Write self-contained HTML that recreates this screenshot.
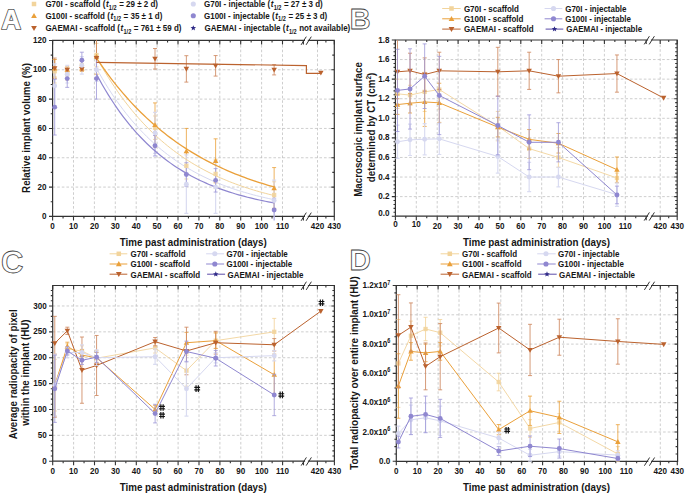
<!DOCTYPE html>
<html><head><meta charset="utf-8"><style>html,body{margin:0;padding:0;background:#fff;width:685px;height:493px;overflow:hidden}svg{display:block}</style></head>
<body><svg width="685" height="493" viewBox="0 0 685 493">
<rect width="685" height="493" fill="#fff"/>
<path d="M73.50 40.45V216.40M94.40 40.45V216.40M115.30 40.45V216.40M136.20 40.45V216.40M157.10 40.45V216.40M178.00 40.45V216.40M198.90 40.45V216.40M219.80 40.45V216.40M240.70 40.45V216.40M261.60 40.45V216.40M282.50 40.45V216.40M317.50 40.45V216.40M52.60 187.08H334.30M52.60 157.75H334.30M52.60 128.43H334.30M52.60 99.10H334.30M52.60 69.78H334.30" stroke="#bdbdbd" stroke-width="0.75" stroke-dasharray="2.6 2.0" fill="none"/>
<path d="M52.60 40.45V216.40H304.40M308.40 216.40H334.30V40.45H308.40M304.40 40.45H52.60" stroke="#333333" stroke-width="1.2" fill="none" stroke-linecap="square"/>
<path d="M301.10 44.85L306.30 36.65M306.10 44.85L311.30 36.65M301.10 220.80L306.30 212.60M306.10 220.80L311.30 212.60" stroke="#333333" stroke-width="1" fill="none"/>
<path d="M52.60 216.40v4.0M52.60 40.45v4.0M63.05 216.40v2.0M63.05 40.45v2.0M73.50 216.40v4.0M73.50 40.45v4.0M83.95 216.40v2.0M83.95 40.45v2.0M94.40 216.40v4.0M94.40 40.45v4.0M104.85 216.40v2.0M104.85 40.45v2.0M115.30 216.40v4.0M115.30 40.45v4.0M125.75 216.40v2.0M125.75 40.45v2.0M136.20 216.40v4.0M136.20 40.45v4.0M146.65 216.40v2.0M146.65 40.45v2.0M157.10 216.40v4.0M157.10 40.45v4.0M167.55 216.40v2.0M167.55 40.45v2.0M178.00 216.40v4.0M178.00 40.45v4.0M188.45 216.40v2.0M188.45 40.45v2.0M198.90 216.40v4.0M198.90 40.45v4.0M209.35 216.40v2.0M209.35 40.45v2.0M219.80 216.40v4.0M219.80 40.45v4.0M230.25 216.40v2.0M230.25 40.45v2.0M240.70 216.40v4.0M240.70 40.45v4.0M251.15 216.40v2.0M251.15 40.45v2.0M261.60 216.40v4.0M261.60 40.45v4.0M272.05 216.40v2.0M272.05 40.45v2.0M282.50 216.40v4.0M282.50 40.45v4.0M292.95 216.40v2.0M292.95 40.45v2.0M303.40 216.40v4.0M303.40 40.45v4.0M317.50 216.40v4.0M317.50 40.45v4.0M325.90 216.40v2.0M325.90 40.45v2.0M334.30 216.40v4.0M334.30 40.45v4.0M52.60 216.40h-3.6M52.60 187.08h-3.6M52.60 157.75h-3.6M52.60 128.43h-3.6M52.60 99.10h-3.6M52.60 69.78h-3.6M52.60 40.46h-3.6M52.60 201.74h-1.9M52.60 172.41h-1.9M52.60 143.09h-1.9M52.60 113.77h-1.9M52.60 84.44h-1.9M52.60 55.12h-1.9M334.30 187.08h-3.0M334.30 157.75h-3.0M334.30 128.43h-3.0M334.30 99.10h-3.0M334.30 69.78h-3.0M334.30 201.74h-2.0M334.30 172.41h-2.0M334.30 143.09h-2.0M334.30 113.77h-2.0M334.30 84.44h-2.0M334.30 55.12h-2.0" stroke="#333333" stroke-width="1.1" fill="none"/>
<g font-family="Liberation Sans, sans-serif" font-weight="bold" font-size="8.1" fill="#161616"><text transform="translate(52.60,229.00) scale(1,1.18)" text-anchor="middle">0</text><text transform="translate(73.50,229.00) scale(1,1.18)" text-anchor="middle">10</text><text transform="translate(94.40,229.00) scale(1,1.18)" text-anchor="middle">20</text><text transform="translate(115.30,229.00) scale(1,1.18)" text-anchor="middle">30</text><text transform="translate(136.20,229.00) scale(1,1.18)" text-anchor="middle">40</text><text transform="translate(157.10,229.00) scale(1,1.18)" text-anchor="middle">50</text><text transform="translate(178.00,229.00) scale(1,1.18)" text-anchor="middle">60</text><text transform="translate(198.90,229.00) scale(1,1.18)" text-anchor="middle">70</text><text transform="translate(219.80,229.00) scale(1,1.18)" text-anchor="middle">80</text><text transform="translate(240.70,229.00) scale(1,1.18)" text-anchor="middle">90</text><text transform="translate(261.60,229.00) scale(1,1.18)" text-anchor="middle">100</text><text transform="translate(282.50,229.00) scale(1,1.18)" text-anchor="middle">110</text><text transform="translate(317.50,229.00) scale(1,1.18)" text-anchor="middle">420</text><text transform="translate(334.30,229.00) scale(1,1.18)" text-anchor="middle">430</text></g>
<g font-family="Liberation Sans, sans-serif" font-weight="bold" font-size="8.1" fill="#161616"><text transform="translate(46.60,219.00) scale(1,1.18)" text-anchor="end">0</text><text transform="translate(46.60,189.68) scale(1,1.18)" text-anchor="end">20</text><text transform="translate(46.60,160.35) scale(1,1.18)" text-anchor="end">40</text><text transform="translate(46.60,131.03) scale(1,1.18)" text-anchor="end">60</text><text transform="translate(46.60,101.70) scale(1,1.18)" text-anchor="end">80</text><text transform="translate(46.60,72.38) scale(1,1.18)" text-anchor="end">100</text><text transform="translate(46.60,43.06) scale(1,1.18)" text-anchor="end">120</text></g>
<path d="M54.69 59.52V82.98M52.69 59.52h4.0M52.69 82.98h4.0M67.23 68.31V80.04M65.23 68.31h4.0M65.23 80.04h4.0M81.86 59.52V71.25M79.86 59.52h4.0M79.86 71.25h4.0M96.49 43.39V66.85M94.49 43.39h4.0M94.49 66.85h4.0M155.01 115.97V139.42M153.01 115.97h4.0M153.01 139.42h4.0M186.36 152.62V179.01M184.36 152.62h4.0M184.36 179.01h4.0M215.62 159.22V188.54M213.62 159.22h4.0M213.62 188.54h4.0M274.14 181.80V208.19M272.14 181.80h4.0M272.14 208.19h4.0" stroke="#f2d49c" stroke-width="1.0" fill="none" opacity="0.85"/>
<path d="M54.69 59.52V77.11M52.69 59.52h4.0M52.69 77.11h4.0M67.23 66.85V72.71M65.23 66.85h4.0M65.23 72.71h4.0M81.86 65.38V71.25M79.86 65.38h4.0M79.86 71.25h4.0M96.49 40.45V74.18M94.49 74.18h4.0M155.01 102.92V146.90M153.01 102.92h4.0M153.01 146.90h4.0M186.36 128.43V173.88M184.36 128.43h4.0M184.36 173.88h4.0M215.62 138.84V182.82M213.62 138.84h4.0M213.62 182.82h4.0M274.14 167.58V208.63M272.14 167.58h4.0M272.14 208.63h4.0" stroke="#eaa03a" stroke-width="1.0" fill="none" opacity="0.8"/>
<path d="M54.69 58.05V78.58M52.69 58.05h4.0M52.69 78.58h4.0M67.23 68.31V71.25M65.23 68.31h4.0M65.23 71.25h4.0M81.86 67.58V70.51M79.86 67.58h4.0M79.86 70.51h4.0M96.49 40.45V78.58M94.49 78.58h4.0M155.01 48.52V69.05M153.01 48.52h4.0M153.01 69.05h4.0M186.36 55.70V82.10M184.36 55.70h4.0M184.36 82.10h4.0M215.62 55.56V76.08M213.62 55.56h4.0M213.62 76.08h4.0M274.14 64.65V74.91M272.14 64.65h4.0M272.14 74.91h4.0" stroke="#cf8a62" stroke-width="1.0" fill="none" opacity="0.85"/>
<path d="M54.69 63.92V107.90M52.69 63.92h4.0M52.69 107.90h4.0M67.23 65.38V82.98M65.23 65.38h4.0M65.23 82.98h4.0M81.86 56.58V74.18M79.86 56.58h4.0M79.86 74.18h4.0M96.49 58.05V81.51M94.49 58.05h4.0M94.49 81.51h4.0M155.01 112.30V153.35M153.01 112.30h4.0M153.01 153.35h4.0M186.36 154.82V213.47M184.36 154.82h4.0M184.36 213.47h4.0M215.62 160.68V213.47M213.62 160.68h4.0M213.62 213.47h4.0M274.14 180.04V220.40M272.14 180.04h4.0" stroke="#d6d8f0" stroke-width="1.2" fill="none" opacity="0.9"/>
<path d="M54.69 79.31V135.03M52.69 79.31h4.0M52.69 135.03h4.0M67.23 69.78V87.37M65.23 69.78h4.0M65.23 87.37h4.0M81.86 52.19V68.31M79.86 52.19h4.0M79.86 68.31h4.0M96.49 58.05V99.10M94.49 58.05h4.0M94.49 99.10h4.0M155.01 135.47V155.99M153.01 135.47h4.0M153.01 155.99h4.0M186.36 162.74V186.20M184.36 162.74h4.0M184.36 186.20h4.0M215.62 168.60V192.06M213.62 168.60h4.0M213.62 192.06h4.0M274.14 198.22V220.40M272.14 198.22h4.0" stroke="#9d97d8" stroke-width="1.0" fill="none" opacity="0.8"/>
<polyline points="96.49,68.31 99.45,73.60 102.41,78.70 105.37,83.62 108.33,88.36 111.29,92.94 114.25,97.35 117.22,101.60 120.18,105.70 123.14,109.65 126.10,113.46 129.06,117.14 132.02,120.69 134.98,124.10 137.94,127.40 140.90,130.58 143.86,133.64 146.82,136.60 149.78,139.45 152.75,142.20 155.71,144.85 158.67,147.40 161.63,149.87 164.59,152.24 167.55,154.54 170.51,156.75 173.47,158.88 176.43,160.93 179.39,162.91 182.35,164.82 185.31,166.66 188.28,168.44 191.24,170.15 194.20,171.80 197.16,173.40 200.12,174.93 203.08,176.41 206.04,177.84 209.00,179.22 211.96,180.55 214.92,181.83 217.88,183.06 220.84,184.25 223.81,185.40 226.77,186.51 229.73,187.58 232.69,188.61 235.65,189.60 238.61,190.56 241.57,191.48 244.53,192.37 247.49,193.23 250.45,194.05 253.41,194.85 256.38,195.62 259.34,196.36 262.30,197.08 265.26,197.77 268.22,198.44 271.18,199.08 274.14,199.70" stroke="#d6d8f0" stroke-width="1.0" fill="none"/>
<polyline points="96.49,57.32 99.45,62.61 102.41,67.73 105.37,72.68 108.33,77.47 111.29,82.09 114.25,86.57 117.22,90.89 120.18,95.07 123.14,99.11 126.10,103.01 129.06,106.79 132.02,110.44 134.98,113.96 137.94,117.37 140.90,120.67 143.86,123.86 146.82,126.94 149.78,129.92 152.75,132.80 155.71,135.58 158.67,138.27 161.63,140.87 164.59,143.39 167.55,145.82 170.51,148.17 173.47,150.44 176.43,152.64 179.39,154.76 182.35,156.81 185.31,158.80 188.28,160.71 191.24,162.57 194.20,164.36 197.16,166.09 200.12,167.77 203.08,169.39 206.04,170.95 209.00,172.46 211.96,173.93 214.92,175.34 217.88,176.71 220.84,178.03 223.81,179.31 226.77,180.54 229.73,181.74 232.69,182.89 235.65,184.01 238.61,185.08 241.57,186.13 244.53,187.13 247.49,188.11 250.45,189.05 253.41,189.96 256.38,190.84 259.34,191.69 262.30,192.52 265.26,193.31 268.22,194.08 271.18,194.82 274.14,195.54" stroke="#f2d49c" stroke-width="1.0" fill="none"/>
<polyline points="96.49,74.18 99.45,79.66 102.41,84.92 105.37,89.99 108.33,94.86 111.29,99.54 114.25,104.04 117.22,108.37 120.18,112.53 123.14,116.53 126.10,120.38 129.06,124.07 132.02,127.63 134.98,131.05 137.94,134.34 140.90,137.50 143.86,140.54 146.82,143.46 149.78,146.27 152.75,148.97 155.71,151.57 158.67,154.06 161.63,156.46 164.59,158.77 167.55,160.99 170.51,163.13 173.47,165.18 176.43,167.15 179.39,169.05 182.35,170.87 185.31,172.63 188.28,174.31 191.24,175.93 194.20,177.49 197.16,178.99 200.12,180.43 203.08,181.82 206.04,183.15 209.00,184.43 211.96,185.66 214.92,186.85 217.88,187.98 220.84,189.08 223.81,190.13 226.77,191.14 229.73,192.11 232.69,193.05 235.65,193.95 238.61,194.81 241.57,195.65 244.53,196.45 247.49,197.21 250.45,197.95 253.41,198.66 256.38,199.35 259.34,200.00 262.30,200.63 265.26,201.24 268.22,201.83 271.18,202.39 274.14,202.93" stroke="#8f87d0" stroke-width="1.2" fill="none"/>
<polyline points="96.49,58.05 99.45,62.43 102.41,66.69 105.37,70.83 108.33,74.86 111.29,78.78 114.25,82.58 117.22,86.29 120.18,89.89 123.14,93.39 126.10,96.79 129.06,100.10 132.02,103.32 134.98,106.44 137.94,109.49 140.90,112.44 143.86,115.32 146.82,118.12 149.78,120.84 152.75,123.48 155.71,126.05 158.67,128.55 161.63,130.98 164.59,133.34 167.55,135.64 170.51,137.88 173.47,140.05 176.43,142.16 179.39,144.21 182.35,146.21 185.31,148.15 188.28,150.04 191.24,151.88 194.20,153.66 197.16,155.40 200.12,157.09 203.08,158.73 206.04,160.32 209.00,161.87 211.96,163.38 214.92,164.85 217.88,166.28 220.84,167.66 223.81,169.01 226.77,170.32 229.73,171.60 232.69,172.84 235.65,174.04 238.61,175.21 241.57,176.35 244.53,177.46 247.49,178.54 250.45,179.59 253.41,180.60 256.38,181.59 259.34,182.56 262.30,183.49 265.26,184.40 268.22,185.29 271.18,186.15 274.14,186.99" stroke="#eaa03a" stroke-width="1.3" fill="none"/>
<polyline points="96.49,62.45 306.40,65.53 306.40,73.30 320.86,73.30" stroke="#bb622e" stroke-width="1.2" fill="none"/>
<rect x="52.54" y="69.10" width="4.30" height="4.30" fill="#f2d49c" opacity="0.9"/><rect x="65.08" y="72.03" width="4.30" height="4.30" fill="#f2d49c" opacity="0.9"/><rect x="79.71" y="63.23" width="4.30" height="4.30" fill="#f2d49c" opacity="0.9"/><rect x="94.34" y="52.97" width="4.30" height="4.30" fill="#f2d49c" opacity="0.9"/><rect x="152.86" y="125.54" width="4.30" height="4.30" fill="#f2d49c" opacity="0.9"/><rect x="184.21" y="163.67" width="4.30" height="4.30" fill="#f2d49c" opacity="0.9"/><rect x="213.47" y="171.73" width="4.30" height="4.30" fill="#f2d49c" opacity="0.9"/><rect x="271.99" y="192.84" width="4.30" height="4.30" fill="#f2d49c" opacity="0.9"/>
<path d="M54.69 65.56L57.44 70.38L51.94 70.38Z" fill="#eaa03a" opacity="1.0"/><path d="M67.23 67.03L69.98 71.84L64.48 71.84Z" fill="#eaa03a" opacity="1.0"/><path d="M81.86 65.56L84.61 70.38L79.11 70.38Z" fill="#eaa03a" opacity="1.0"/><path d="M96.49 53.83L99.24 58.65L93.74 58.65Z" fill="#eaa03a" opacity="1.0"/><path d="M155.01 122.16L157.76 126.97L152.26 126.97Z" fill="#eaa03a" opacity="1.0"/><path d="M186.36 148.40L189.11 153.22L183.61 153.22Z" fill="#eaa03a" opacity="1.0"/><path d="M215.62 158.08L218.37 162.89L212.87 162.89Z" fill="#eaa03a" opacity="1.0"/><path d="M274.14 185.35L276.89 190.16L271.39 190.16Z" fill="#eaa03a" opacity="1.0"/>
<path d="M54.69 71.06L57.44 66.25L51.94 66.25Z" fill="#bb622e" opacity="1.0"/><path d="M67.23 72.53L69.98 67.72L64.48 67.72Z" fill="#bb622e" opacity="1.0"/><path d="M81.86 71.80L84.61 66.98L79.11 66.98Z" fill="#bb622e" opacity="1.0"/><path d="M96.49 60.80L99.24 55.99L93.74 55.99Z" fill="#bb622e" opacity="1.0"/><path d="M155.01 61.53L157.76 56.72L152.26 56.72Z" fill="#bb622e" opacity="1.0"/><path d="M186.36 71.65L189.11 66.84L183.61 66.84Z" fill="#bb622e" opacity="1.0"/><path d="M215.62 68.57L218.37 63.76L212.87 63.76Z" fill="#bb622e" opacity="1.0"/><path d="M274.14 72.53L276.89 67.72L271.39 67.72Z" fill="#bb622e" opacity="1.0"/><path d="M320.86 75.46L323.61 70.65L318.11 70.65Z" fill="#bb622e" opacity="1.0"/>
<circle cx="54.69" cy="85.91" r="2.45" fill="#d6d8f0" opacity="1.0"/><circle cx="67.23" cy="74.18" r="2.45" fill="#d6d8f0" opacity="1.0"/><circle cx="81.86" cy="65.38" r="2.45" fill="#d6d8f0" opacity="1.0"/><circle cx="96.49" cy="69.78" r="2.45" fill="#d6d8f0" opacity="1.0"/><circle cx="155.01" cy="132.83" r="2.45" fill="#d6d8f0" opacity="1.0"/><circle cx="186.36" cy="184.14" r="2.45" fill="#d6d8f0" opacity="1.0"/><circle cx="215.62" cy="187.08" r="2.45" fill="#d6d8f0" opacity="1.0"/><circle cx="274.14" cy="200.57" r="2.45" fill="#d6d8f0" opacity="1.0"/>
<circle cx="54.69" cy="107.17" r="2.45" fill="#8f87d0" opacity="1.0"/><circle cx="67.23" cy="78.58" r="2.45" fill="#8f87d0" opacity="1.0"/><circle cx="81.86" cy="60.25" r="2.45" fill="#8f87d0" opacity="1.0"/><circle cx="96.49" cy="78.58" r="2.45" fill="#8f87d0" opacity="1.0"/><circle cx="155.01" cy="145.73" r="2.45" fill="#8f87d0" opacity="1.0"/><circle cx="186.36" cy="174.47" r="2.45" fill="#8f87d0" opacity="1.0"/><circle cx="215.62" cy="180.33" r="2.45" fill="#8f87d0" opacity="1.0"/><circle cx="274.14" cy="209.95" r="2.45" fill="#8f87d0" opacity="1.0"/>
<path d="M416.30 40.00V216.20M437.20 40.00V216.20M458.10 40.00V216.20M479.00 40.00V216.20M499.90 40.00V216.20M520.80 40.00V216.20M541.70 40.00V216.20M562.60 40.00V216.20M583.50 40.00V216.20M604.40 40.00V216.20M625.30 40.00V216.20M660.20 40.00V216.20M395.40 196.62H677.20M395.40 177.04H677.20M395.40 157.46H677.20M395.40 137.88H677.20M395.40 118.30H677.20M395.40 98.72H677.20M395.40 79.14H677.20M395.40 59.56H677.20" stroke="#bdbdbd" stroke-width="0.75" stroke-dasharray="2.6 2.0" fill="none"/>
<path d="M395.40 40.00V216.20H647.50M651.50 216.20H677.20V40.00H651.50M647.50 40.00H395.40" stroke="#333333" stroke-width="1.2" fill="none" stroke-linecap="square"/>
<path d="M644.20 44.40L649.40 36.20M649.20 44.40L654.40 36.20M644.20 220.60L649.40 212.40M649.20 220.60L654.40 212.40" stroke="#333333" stroke-width="1" fill="none"/>
<path d="M395.40 216.20v4.0M395.40 40.00v4.0M405.85 216.20v2.0M405.85 40.00v2.0M416.30 216.20v4.0M416.30 40.00v4.0M426.75 216.20v2.0M426.75 40.00v2.0M437.20 216.20v4.0M437.20 40.00v4.0M447.65 216.20v2.0M447.65 40.00v2.0M458.10 216.20v4.0M458.10 40.00v4.0M468.55 216.20v2.0M468.55 40.00v2.0M479.00 216.20v4.0M479.00 40.00v4.0M489.45 216.20v2.0M489.45 40.00v2.0M499.90 216.20v4.0M499.90 40.00v4.0M510.35 216.20v2.0M510.35 40.00v2.0M520.80 216.20v4.0M520.80 40.00v4.0M531.25 216.20v2.0M531.25 40.00v2.0M541.70 216.20v4.0M541.70 40.00v4.0M552.15 216.20v2.0M552.15 40.00v2.0M562.60 216.20v4.0M562.60 40.00v4.0M573.05 216.20v2.0M573.05 40.00v2.0M583.50 216.20v4.0M583.50 40.00v4.0M593.95 216.20v2.0M593.95 40.00v2.0M604.40 216.20v4.0M604.40 40.00v4.0M614.85 216.20v2.0M614.85 40.00v2.0M625.30 216.20v4.0M625.30 40.00v4.0M635.75 216.20v2.0M635.75 40.00v2.0M646.20 216.20v4.0M646.20 40.00v4.0M660.20 216.20v4.0M660.20 40.00v4.0M668.70 216.20v2.0M668.70 40.00v2.0M677.20 216.20v4.0M677.20 40.00v4.0M395.40 216.20h-3.6M395.40 196.62h-3.6M395.40 177.04h-3.6M395.40 157.46h-3.6M395.40 137.88h-3.6M395.40 118.30h-3.6M395.40 98.72h-3.6M395.40 79.14h-3.6M395.40 59.56h-3.6M395.40 39.98h-3.6M395.40 212.28h-1.9M395.40 208.37h-1.9M395.40 204.45h-1.9M395.40 200.54h-1.9M395.40 192.70h-1.9M395.40 188.79h-1.9M395.40 184.87h-1.9M395.40 180.96h-1.9M395.40 173.12h-1.9M395.40 169.21h-1.9M395.40 165.29h-1.9M395.40 161.38h-1.9M395.40 153.54h-1.9M395.40 149.63h-1.9M395.40 145.71h-1.9M395.40 141.80h-1.9M395.40 133.96h-1.9M395.40 130.05h-1.9M395.40 126.13h-1.9M395.40 122.22h-1.9M395.40 114.38h-1.9M395.40 110.47h-1.9M395.40 106.55h-1.9M395.40 102.64h-1.9M395.40 94.80h-1.9M395.40 90.89h-1.9M395.40 86.97h-1.9M395.40 83.06h-1.9M395.40 75.22h-1.9M395.40 71.31h-1.9M395.40 67.39h-1.9M395.40 63.48h-1.9M395.40 55.64h-1.9M395.40 51.73h-1.9M395.40 47.81h-1.9M395.40 43.90h-1.9M677.20 196.62h-3.0M677.20 177.04h-3.0M677.20 157.46h-3.0M677.20 137.88h-3.0M677.20 118.30h-3.0M677.20 98.72h-3.0M677.20 79.14h-3.0M677.20 59.56h-3.0M677.20 212.28h-2.0M677.20 208.37h-2.0M677.20 204.45h-2.0M677.20 200.54h-2.0M677.20 192.70h-2.0M677.20 188.79h-2.0M677.20 184.87h-2.0M677.20 180.96h-2.0M677.20 173.12h-2.0M677.20 169.21h-2.0M677.20 165.29h-2.0M677.20 161.38h-2.0M677.20 153.54h-2.0M677.20 149.63h-2.0M677.20 145.71h-2.0M677.20 141.80h-2.0M677.20 133.96h-2.0M677.20 130.05h-2.0M677.20 126.13h-2.0M677.20 122.22h-2.0M677.20 114.38h-2.0M677.20 110.47h-2.0M677.20 106.55h-2.0M677.20 102.64h-2.0M677.20 94.80h-2.0M677.20 90.89h-2.0M677.20 86.97h-2.0M677.20 83.06h-2.0M677.20 75.22h-2.0M677.20 71.31h-2.0M677.20 67.39h-2.0M677.20 63.48h-2.0M677.20 55.64h-2.0M677.20 51.73h-2.0M677.20 47.81h-2.0M677.20 43.90h-2.0" stroke="#333333" stroke-width="1.1" fill="none"/>
<g font-family="Liberation Sans, sans-serif" font-weight="bold" font-size="8.1" fill="#161616"><text transform="translate(395.40,227.00) scale(1,1.18)" text-anchor="middle">0</text><text transform="translate(416.30,227.00) scale(1,1.18)" text-anchor="middle">10</text><text transform="translate(437.20,228.80) scale(1,1.18)" text-anchor="middle">20</text><text transform="translate(458.10,228.80) scale(1,1.18)" text-anchor="middle">30</text><text transform="translate(479.00,228.80) scale(1,1.18)" text-anchor="middle">40</text><text transform="translate(499.90,228.80) scale(1,1.18)" text-anchor="middle">50</text><text transform="translate(520.80,228.80) scale(1,1.18)" text-anchor="middle">60</text><text transform="translate(541.70,228.80) scale(1,1.18)" text-anchor="middle">70</text><text transform="translate(562.60,228.80) scale(1,1.18)" text-anchor="middle">80</text><text transform="translate(583.50,228.80) scale(1,1.18)" text-anchor="middle">90</text><text transform="translate(604.40,228.80) scale(1,1.18)" text-anchor="middle">100</text><text transform="translate(625.30,228.80) scale(1,1.18)" text-anchor="middle">110</text><text transform="translate(660.20,228.80) scale(1,1.18)" text-anchor="middle">420</text><text transform="translate(677.20,228.80) scale(1,1.18)" text-anchor="middle">430</text></g>
<g font-family="Liberation Sans, sans-serif" font-weight="bold" font-size="8.1" fill="#161616"><text transform="translate(389.40,215.80) scale(1,1.18)" text-anchor="end">0.0</text><text transform="translate(389.40,199.22) scale(1,1.18)" text-anchor="end">0.2</text><text transform="translate(389.40,179.64) scale(1,1.18)" text-anchor="end">0.4</text><text transform="translate(389.40,160.06) scale(1,1.18)" text-anchor="end">0.6</text><text transform="translate(389.40,140.48) scale(1,1.18)" text-anchor="end">0.8</text><text transform="translate(389.40,120.90) scale(1,1.18)" text-anchor="end">1.0</text><text transform="translate(389.40,101.32) scale(1,1.18)" text-anchor="end">1.2</text><text transform="translate(389.40,81.74) scale(1,1.18)" text-anchor="end">1.4</text><text transform="translate(389.40,62.16) scale(1,1.18)" text-anchor="end">1.6</text><text transform="translate(389.40,42.58) scale(1,1.18)" text-anchor="end">1.8</text></g>
<path d="M397.49 79.14V108.51M395.49 79.14h4.0M395.49 108.51h4.0M410.03 85.31V104.89M408.03 85.31h4.0M408.03 104.89h4.0M424.66 72.29V111.45M422.66 72.29h4.0M422.66 111.45h4.0M439.29 69.94V109.10M437.29 69.94h4.0M437.29 109.10h4.0M497.81 111.45V140.82M495.81 111.45h4.0M495.81 140.82h4.0M529.16 138.86V158.44M527.16 138.86h4.0M527.16 158.44h4.0M558.42 147.67V167.25M556.42 147.67h4.0M556.42 167.25h4.0M616.94 173.12V182.91M614.94 173.12h4.0M614.94 182.91h4.0" stroke="#f2d49c" stroke-width="1.0" fill="none" opacity="0.85"/>
<polyline points="397.49,93.82 410.03,95.10 424.66,91.87 439.29,89.52 497.81,126.13 529.16,148.65 558.42,157.46 616.94,178.02" stroke="#f2d49c" stroke-width="1.0" fill="none" opacity="0.9" stroke-linejoin="round"/>
<rect x="395.34" y="91.67" width="4.30" height="4.30" fill="#f2d49c" opacity="0.9"/><rect x="407.88" y="92.95" width="4.30" height="4.30" fill="#f2d49c" opacity="0.9"/><rect x="422.51" y="89.72" width="4.30" height="4.30" fill="#f2d49c" opacity="0.9"/><rect x="437.14" y="87.37" width="4.30" height="4.30" fill="#f2d49c" opacity="0.9"/><rect x="495.66" y="123.98" width="4.30" height="4.30" fill="#f2d49c" opacity="0.9"/><rect x="527.01" y="146.50" width="4.30" height="4.30" fill="#f2d49c" opacity="0.9"/><rect x="556.27" y="155.31" width="4.30" height="4.30" fill="#f2d49c" opacity="0.9"/><rect x="614.79" y="175.87" width="4.30" height="4.30" fill="#f2d49c" opacity="0.9"/>
<path d="M397.49 94.80V114.38M395.49 94.80h4.0M395.49 114.38h4.0M410.03 93.43V113.01M408.03 93.43h4.0M408.03 113.01h4.0M424.66 77.48V126.43M422.66 77.48h4.0M422.66 126.43h4.0M439.29 83.25V122.41M437.29 83.25h4.0M437.29 122.41h4.0M497.81 117.32V136.90M495.81 117.32h4.0M495.81 136.90h4.0M529.16 129.56V149.14M527.16 129.56h4.0M527.16 149.14h4.0M558.42 133.47V153.05M556.42 133.47h4.0M556.42 153.05h4.0M616.94 156.97V182.42M614.94 156.97h4.0M614.94 182.42h4.0" stroke="#eaa03a" stroke-width="1.0" fill="none" opacity="0.8"/>
<polyline points="397.49,104.59 410.03,103.22 424.66,101.95 439.29,102.83 497.81,127.11 529.16,139.35 558.42,143.26 616.94,169.70" stroke="#eaa03a" stroke-width="1.0" fill="none" opacity="1.0" stroke-linejoin="round"/>
<path d="M397.49 101.84L400.24 106.66L394.74 106.66Z" fill="#eaa03a" opacity="1.0"/><path d="M410.03 100.47L412.78 105.29L407.28 105.29Z" fill="#eaa03a" opacity="1.0"/><path d="M424.66 99.20L427.41 104.01L421.91 104.01Z" fill="#eaa03a" opacity="1.0"/><path d="M439.29 100.08L442.04 104.89L436.54 104.89Z" fill="#eaa03a" opacity="1.0"/><path d="M497.81 124.36L500.56 129.17L495.06 129.17Z" fill="#eaa03a" opacity="1.0"/><path d="M529.16 136.60L531.91 141.41L526.41 141.41Z" fill="#eaa03a" opacity="1.0"/><path d="M558.42 140.51L561.17 145.33L555.67 145.33Z" fill="#eaa03a" opacity="1.0"/><path d="M616.94 166.95L619.69 171.76L614.19 171.76Z" fill="#eaa03a" opacity="1.0"/>
<path d="M397.49 40.00V98.72M395.49 98.72h4.0M410.03 53.20V88.44M408.03 53.20h4.0M408.03 88.44h4.0M424.66 57.90V91.18M422.66 57.90h4.0M422.66 91.18h4.0M439.29 52.22V89.42M437.29 52.22h4.0M437.29 89.42h4.0M497.81 47.32V96.27M495.81 47.32h4.0M495.81 96.27h4.0M529.16 52.22V89.42M527.16 52.22h4.0M527.16 89.42h4.0M558.42 59.56V92.85M556.42 59.56h4.0M556.42 92.85h4.0M616.94 54.96V92.16M614.94 54.96h4.0M614.94 92.16h4.0" stroke="#cf8a62" stroke-width="1.0" fill="none" opacity="0.85"/>
<polyline points="397.49,71.80 410.03,70.82 424.66,74.54 439.29,70.82 497.81,71.80 529.16,70.82 558.42,76.20 616.94,73.56 663.60,97.94" stroke="#bb622e" stroke-width="1.0" fill="none" opacity="1.0" stroke-linejoin="round"/>
<path d="M397.49 74.55L400.24 69.73L394.74 69.73Z" fill="#bb622e" opacity="1.0"/><path d="M410.03 73.57L412.78 68.76L407.28 68.76Z" fill="#bb622e" opacity="1.0"/><path d="M424.66 77.29L427.41 72.48L421.91 72.48Z" fill="#bb622e" opacity="1.0"/><path d="M439.29 73.57L442.04 68.76L436.54 68.76Z" fill="#bb622e" opacity="1.0"/><path d="M497.81 74.55L500.56 69.73L495.06 69.73Z" fill="#bb622e" opacity="1.0"/><path d="M529.16 73.57L531.91 68.76L526.41 68.76Z" fill="#bb622e" opacity="1.0"/><path d="M558.42 78.95L561.17 74.14L555.67 74.14Z" fill="#bb622e" opacity="1.0"/><path d="M616.94 76.31L619.69 71.50L614.19 71.50Z" fill="#bb622e" opacity="1.0"/><path d="M663.60 100.69L666.35 95.87L660.85 95.87Z" fill="#bb622e" opacity="1.0"/>
<path d="M397.49 125.15V158.44M395.49 125.15h4.0M395.49 158.44h4.0M410.03 124.17V155.50M408.03 124.17h4.0M408.03 155.50h4.0M424.66 123.59V154.91M422.66 123.59h4.0M422.66 154.91h4.0M439.29 123.19V154.52M437.29 123.19h4.0M437.29 154.52h4.0M497.81 139.84V173.12M495.81 139.84h4.0M495.81 173.12h4.0M529.16 162.35V191.72M527.16 162.35h4.0M527.16 191.72h4.0M558.42 167.25V186.83M556.42 167.25h4.0M556.42 186.83h4.0M616.94 182.91V206.41M614.94 182.91h4.0M614.94 206.41h4.0" stroke="#d6d8f0" stroke-width="1.2" fill="none" opacity="0.9"/>
<polyline points="397.49,141.80 410.03,139.84 424.66,139.25 439.29,138.86 497.81,156.48 529.16,177.04 558.42,177.04 616.94,194.66" stroke="#d6d8f0" stroke-width="1.0" fill="none" opacity="1.0" stroke-linejoin="round"/>
<circle cx="397.49" cy="141.80" r="2.45" fill="#d6d8f0" opacity="1.0"/><circle cx="410.03" cy="139.84" r="2.45" fill="#d6d8f0" opacity="1.0"/><circle cx="424.66" cy="139.25" r="2.45" fill="#d6d8f0" opacity="1.0"/><circle cx="439.29" cy="138.86" r="2.45" fill="#d6d8f0" opacity="1.0"/><circle cx="497.81" cy="156.48" r="2.45" fill="#d6d8f0" opacity="1.0"/><circle cx="529.16" cy="177.04" r="2.45" fill="#d6d8f0" opacity="1.0"/><circle cx="558.42" cy="177.04" r="2.45" fill="#d6d8f0" opacity="1.0"/><circle cx="616.94" cy="194.66" r="2.45" fill="#d6d8f0" opacity="1.0"/>
<path d="M397.49 49.28V131.52M395.49 49.28h4.0M395.49 131.52h4.0M410.03 48.79V129.07M408.03 48.79h4.0M408.03 129.07h4.0M424.66 43.90V108.51M422.66 43.90h4.0M422.66 108.51h4.0M439.29 56.33V134.65M437.29 56.33h4.0M437.29 134.65h4.0M497.81 96.08V154.82M495.81 96.08h4.0M495.81 154.82h4.0M529.16 114.87V169.70M527.16 114.87h4.0M527.16 169.70h4.0M558.42 122.71V161.87M556.42 122.71h4.0M556.42 161.87h4.0M616.94 186.14V203.77M614.94 186.14h4.0M614.94 203.77h4.0" stroke="#9d97d8" stroke-width="1.0" fill="none" opacity="0.8"/>
<polyline points="397.49,90.40 410.03,88.93 424.66,76.20 439.29,95.49 497.81,125.45 529.16,142.29 558.42,142.29 616.94,194.96" stroke="#8f87d0" stroke-width="1.0" fill="none" opacity="1.0" stroke-linejoin="round"/>
<circle cx="397.49" cy="90.40" r="2.45" fill="#8f87d0" opacity="1.0"/><circle cx="410.03" cy="88.93" r="2.45" fill="#8f87d0" opacity="1.0"/><circle cx="424.66" cy="76.20" r="2.45" fill="#8f87d0" opacity="1.0"/><circle cx="439.29" cy="95.49" r="2.45" fill="#8f87d0" opacity="1.0"/><circle cx="497.81" cy="125.45" r="2.45" fill="#8f87d0" opacity="1.0"/><circle cx="529.16" cy="142.29" r="2.45" fill="#8f87d0" opacity="1.0"/><circle cx="558.42" cy="142.29" r="2.45" fill="#8f87d0" opacity="1.0"/><circle cx="616.94" cy="194.96" r="2.45" fill="#8f87d0" opacity="1.0"/>
<path d="M73.60 285.50V461.20M94.50 285.50V461.20M115.40 285.50V461.20M136.30 285.50V461.20M157.20 285.50V461.20M178.10 285.50V461.20M199.00 285.50V461.20M219.90 285.50V461.20M240.80 285.50V461.20M261.70 285.50V461.20M282.60 285.50V461.20M317.40 285.50V461.20M52.70 435.33H334.40M52.70 409.46H334.40M52.70 383.59H334.40M52.70 357.72H334.40M52.70 331.85H334.40M52.70 305.98H334.40" stroke="#bdbdbd" stroke-width="0.75" stroke-dasharray="2.6 2.0" fill="none"/>
<path d="M52.70 285.50V461.20H304.50M308.50 461.20H334.40V285.50H308.50M304.50 285.50H52.70" stroke="#333333" stroke-width="1.2" fill="none" stroke-linecap="square"/>
<path d="M301.20 289.90L306.40 281.70M306.20 289.90L311.40 281.70M301.20 465.60L306.40 457.40M306.20 465.60L311.40 457.40" stroke="#333333" stroke-width="1" fill="none"/>
<path d="M52.70 461.20v4.0M52.70 285.50v4.0M63.15 461.20v2.0M63.15 285.50v2.0M73.60 461.20v4.0M73.60 285.50v4.0M84.05 461.20v2.0M84.05 285.50v2.0M94.50 461.20v4.0M94.50 285.50v4.0M104.95 461.20v2.0M104.95 285.50v2.0M115.40 461.20v4.0M115.40 285.50v4.0M125.85 461.20v2.0M125.85 285.50v2.0M136.30 461.20v4.0M136.30 285.50v4.0M146.75 461.20v2.0M146.75 285.50v2.0M157.20 461.20v4.0M157.20 285.50v4.0M167.65 461.20v2.0M167.65 285.50v2.0M178.10 461.20v4.0M178.10 285.50v4.0M188.55 461.20v2.0M188.55 285.50v2.0M199.00 461.20v4.0M199.00 285.50v4.0M209.45 461.20v2.0M209.45 285.50v2.0M219.90 461.20v4.0M219.90 285.50v4.0M230.35 461.20v2.0M230.35 285.50v2.0M240.80 461.20v4.0M240.80 285.50v4.0M251.25 461.20v2.0M251.25 285.50v2.0M261.70 461.20v4.0M261.70 285.50v4.0M272.15 461.20v2.0M272.15 285.50v2.0M282.60 461.20v4.0M282.60 285.50v4.0M293.05 461.20v2.0M293.05 285.50v2.0M303.50 461.20v4.0M303.50 285.50v4.0M317.40 461.20v4.0M317.40 285.50v4.0M325.90 461.20v2.0M325.90 285.50v2.0M334.40 461.20v4.0M334.40 285.50v4.0M52.70 461.20h-3.6M52.70 435.33h-3.6M52.70 409.46h-3.6M52.70 383.59h-3.6M52.70 357.72h-3.6M52.70 331.85h-3.6M52.70 305.98h-3.6M52.70 456.03h-1.9M52.70 450.85h-1.9M52.70 445.68h-1.9M52.70 440.50h-1.9M52.70 430.16h-1.9M52.70 424.98h-1.9M52.70 419.81h-1.9M52.70 414.63h-1.9M52.70 404.29h-1.9M52.70 399.11h-1.9M52.70 393.94h-1.9M52.70 388.76h-1.9M52.70 378.42h-1.9M52.70 373.24h-1.9M52.70 368.07h-1.9M52.70 362.89h-1.9M52.70 352.55h-1.9M52.70 347.37h-1.9M52.70 342.20h-1.9M52.70 337.02h-1.9M52.70 326.68h-1.9M52.70 321.50h-1.9M52.70 316.33h-1.9M52.70 311.15h-1.9M52.70 300.81h-1.9M52.70 295.63h-1.9M52.70 290.46h-1.9M334.40 435.33h-3.0M334.40 409.46h-3.0M334.40 383.59h-3.0M334.40 357.72h-3.0M334.40 331.85h-3.0M334.40 305.98h-3.0M334.40 456.03h-2.0M334.40 450.85h-2.0M334.40 445.68h-2.0M334.40 440.50h-2.0M334.40 430.16h-2.0M334.40 424.98h-2.0M334.40 419.81h-2.0M334.40 414.63h-2.0M334.40 404.29h-2.0M334.40 399.11h-2.0M334.40 393.94h-2.0M334.40 388.76h-2.0M334.40 378.42h-2.0M334.40 373.24h-2.0M334.40 368.07h-2.0M334.40 362.89h-2.0M334.40 352.55h-2.0M334.40 347.37h-2.0M334.40 342.20h-2.0M334.40 337.02h-2.0M334.40 326.68h-2.0M334.40 321.50h-2.0M334.40 316.33h-2.0M334.40 311.15h-2.0M334.40 300.81h-2.0M334.40 295.63h-2.0M334.40 290.46h-2.0" stroke="#333333" stroke-width="1.1" fill="none"/>
<g font-family="Liberation Sans, sans-serif" font-weight="bold" font-size="8.1" fill="#161616"><text transform="translate(52.70,473.80) scale(1,1.18)" text-anchor="middle">0</text><text transform="translate(73.60,473.80) scale(1,1.18)" text-anchor="middle">10</text><text transform="translate(94.50,473.80) scale(1,1.18)" text-anchor="middle">20</text><text transform="translate(115.40,473.80) scale(1,1.18)" text-anchor="middle">30</text><text transform="translate(136.30,473.80) scale(1,1.18)" text-anchor="middle">40</text><text transform="translate(157.20,473.80) scale(1,1.18)" text-anchor="middle">50</text><text transform="translate(178.10,473.80) scale(1,1.18)" text-anchor="middle">60</text><text transform="translate(199.00,473.80) scale(1,1.18)" text-anchor="middle">70</text><text transform="translate(219.90,473.80) scale(1,1.18)" text-anchor="middle">80</text><text transform="translate(240.80,473.80) scale(1,1.18)" text-anchor="middle">90</text><text transform="translate(261.70,473.80) scale(1,1.18)" text-anchor="middle">100</text><text transform="translate(282.60,473.80) scale(1,1.18)" text-anchor="middle">110</text><text transform="translate(317.40,473.80) scale(1,1.18)" text-anchor="middle">420</text><text transform="translate(334.40,473.80) scale(1,1.18)" text-anchor="middle">430</text></g>
<g font-family="Liberation Sans, sans-serif" font-weight="bold" font-size="8.1" fill="#161616"><text transform="translate(46.70,463.80) scale(1,1.18)" text-anchor="end">0</text><text transform="translate(46.70,437.93) scale(1,1.18)" text-anchor="end">50</text><text transform="translate(46.70,412.06) scale(1,1.18)" text-anchor="end">100</text><text transform="translate(46.70,386.19) scale(1,1.18)" text-anchor="end">150</text><text transform="translate(46.70,360.32) scale(1,1.18)" text-anchor="end">200</text><text transform="translate(46.70,334.45) scale(1,1.18)" text-anchor="end">250</text><text transform="translate(46.70,308.58) scale(1,1.18)" text-anchor="end">300</text></g>
<path d="M54.79 359.27V411.01M52.79 359.27h4.0M52.79 411.01h4.0M67.33 343.75V354.10M65.33 343.75h4.0M65.33 354.10h4.0M81.96 345.82V356.17M79.96 345.82h4.0M79.96 356.17h4.0M96.59 350.48V366.00M94.59 350.48h4.0M94.59 366.00h4.0M155.11 342.72V353.06M153.11 342.72h4.0M153.11 353.06h4.0M186.46 355.13V386.18M184.46 355.13h4.0M184.46 386.18h4.0M215.72 332.88V348.41M213.72 332.88h4.0M213.72 348.41h4.0M274.24 318.40V345.30M272.24 318.40h4.0M272.24 345.30h4.0" stroke="#f2d49c" stroke-width="1.0" fill="none" opacity="0.85"/>
<polyline points="54.79,385.14 67.33,348.92 81.96,350.99 96.59,358.24 155.11,347.89 186.46,370.65 215.72,340.65 274.24,331.85" stroke="#f2d49c" stroke-width="1.0" fill="none" opacity="0.9" stroke-linejoin="round"/>
<rect x="52.64" y="382.99" width="4.30" height="4.30" fill="#f2d49c" opacity="0.9"/><rect x="65.18" y="346.77" width="4.30" height="4.30" fill="#f2d49c" opacity="0.9"/><rect x="79.81" y="348.84" width="4.30" height="4.30" fill="#f2d49c" opacity="0.9"/><rect x="94.44" y="356.09" width="4.30" height="4.30" fill="#f2d49c" opacity="0.9"/><rect x="152.96" y="345.74" width="4.30" height="4.30" fill="#f2d49c" opacity="0.9"/><rect x="184.31" y="368.50" width="4.30" height="4.30" fill="#f2d49c" opacity="0.9"/><rect x="213.57" y="338.50" width="4.30" height="4.30" fill="#f2d49c" opacity="0.9"/><rect x="272.09" y="329.70" width="4.30" height="4.30" fill="#f2d49c" opacity="0.9"/>
<path d="M54.79 354.10V416.19M52.79 354.10h4.0M52.79 416.19h4.0M67.33 342.20V350.48M65.33 342.20h4.0M65.33 350.48h4.0M81.96 349.96V360.31M79.96 349.96h4.0M79.96 360.31h4.0M96.59 352.55V362.89M94.59 352.55h4.0M94.59 362.89h4.0M155.11 405.32V413.60M153.11 405.32h4.0M153.11 413.60h4.0M186.46 332.37V353.06M184.46 332.37h4.0M184.46 353.06h4.0M215.72 332.88V348.41M213.72 332.88h4.0M213.72 348.41h4.0M274.24 354.10V395.49M272.24 354.10h4.0M272.24 395.49h4.0" stroke="#eaa03a" stroke-width="1.0" fill="none" opacity="0.8"/>
<polyline points="54.79,385.14 67.33,346.34 81.96,355.13 96.59,357.72 155.11,409.46 186.46,342.72 215.72,340.65 274.24,374.79" stroke="#eaa03a" stroke-width="1.0" fill="none" opacity="1.0" stroke-linejoin="round"/>
<path d="M54.79 382.39L57.54 387.20L52.04 387.20Z" fill="#eaa03a" opacity="1.0"/><path d="M67.33 343.59L70.08 348.40L64.58 348.40Z" fill="#eaa03a" opacity="1.0"/><path d="M81.96 352.38L84.71 357.20L79.21 357.20Z" fill="#eaa03a" opacity="1.0"/><path d="M96.59 354.97L99.34 359.78L93.84 359.78Z" fill="#eaa03a" opacity="1.0"/><path d="M155.11 406.71L157.86 411.52L152.36 411.52Z" fill="#eaa03a" opacity="1.0"/><path d="M186.46 339.97L189.21 344.78L183.71 344.78Z" fill="#eaa03a" opacity="1.0"/><path d="M215.72 337.90L218.47 342.71L212.97 342.71Z" fill="#eaa03a" opacity="1.0"/><path d="M274.24 372.04L276.99 376.86L271.49 376.86Z" fill="#eaa03a" opacity="1.0"/>
<path d="M54.79 316.33V417.22M52.79 316.33h4.0M52.79 417.22h4.0M67.33 327.19V334.44M65.33 327.19h4.0M65.33 334.44h4.0M81.96 337.02V403.25M79.96 337.02h4.0M79.96 403.25h4.0M96.59 335.47V395.49M94.59 335.47h4.0M94.59 395.49h4.0M155.11 337.54V345.82M153.11 337.54h4.0M153.11 345.82h4.0M186.46 327.19V374.79M184.46 327.19h4.0M184.46 374.79h4.0M215.72 331.33V354.10M213.72 331.33h4.0M213.72 354.10h4.0M274.24 338.58V350.99M272.24 338.58h4.0M272.24 350.99h4.0" stroke="#cf8a62" stroke-width="1.0" fill="none" opacity="0.85"/>
<polyline points="54.79,343.23 67.33,330.82 81.96,370.14 96.59,365.48 155.11,341.68 186.46,350.99 215.72,342.72 274.24,344.78 320.80,311.15" stroke="#bb622e" stroke-width="1.0" fill="none" opacity="1.0" stroke-linejoin="round"/>
<path d="M54.79 345.98L57.54 341.17L52.04 341.17Z" fill="#bb622e" opacity="1.0"/><path d="M67.33 333.57L70.08 328.75L64.58 328.75Z" fill="#bb622e" opacity="1.0"/><path d="M81.96 372.89L84.71 368.08L79.21 368.08Z" fill="#bb622e" opacity="1.0"/><path d="M96.59 368.23L99.34 363.42L93.84 363.42Z" fill="#bb622e" opacity="1.0"/><path d="M155.11 344.43L157.86 339.62L152.36 339.62Z" fill="#bb622e" opacity="1.0"/><path d="M186.46 353.74L189.21 348.93L183.71 348.93Z" fill="#bb622e" opacity="1.0"/><path d="M215.72 345.47L218.47 340.65L212.97 340.65Z" fill="#bb622e" opacity="1.0"/><path d="M274.24 347.53L276.99 342.72L271.49 342.72Z" fill="#bb622e" opacity="1.0"/><path d="M320.80 313.90L323.55 309.09L318.05 309.09Z" fill="#bb622e" opacity="1.0"/>
<path d="M54.79 354.10V416.19M52.79 354.10h4.0M52.79 416.19h4.0M67.33 347.37V357.72M65.33 347.37h4.0M65.33 357.72h4.0M81.96 344.78V360.31M79.96 344.78h4.0M79.96 360.31h4.0M96.59 349.96V365.48M94.59 349.96h4.0M94.59 365.48h4.0M155.11 348.92V364.45M153.11 348.92h4.0M153.11 364.45h4.0M186.46 361.34V416.19M184.46 361.34h4.0M184.46 416.19h4.0M215.72 352.55V362.89M213.72 352.55h4.0M213.72 362.89h4.0M274.24 350.48V360.82M272.24 350.48h4.0M272.24 360.82h4.0" stroke="#d6d8f0" stroke-width="1.2" fill="none" opacity="0.9"/>
<polyline points="54.79,385.14 67.33,352.55 81.96,352.55 96.59,357.72 155.11,356.69 186.46,388.76 215.72,357.72 274.24,355.65" stroke="#d6d8f0" stroke-width="1.0" fill="none" opacity="1.0" stroke-linejoin="round"/>
<circle cx="54.79" cy="385.14" r="2.45" fill="#d6d8f0" opacity="1.0"/><circle cx="67.33" cy="352.55" r="2.45" fill="#d6d8f0" opacity="1.0"/><circle cx="81.96" cy="352.55" r="2.45" fill="#d6d8f0" opacity="1.0"/><circle cx="96.59" cy="357.72" r="2.45" fill="#d6d8f0" opacity="1.0"/><circle cx="155.11" cy="356.69" r="2.45" fill="#d6d8f0" opacity="1.0"/><circle cx="186.46" cy="388.76" r="2.45" fill="#d6d8f0" opacity="1.0"/><circle cx="215.72" cy="357.72" r="2.45" fill="#d6d8f0" opacity="1.0"/><circle cx="274.24" cy="355.65" r="2.45" fill="#d6d8f0" opacity="1.0"/>
<path d="M54.79 355.13V422.39M52.79 355.13h4.0M52.79 422.39h4.0M67.33 346.85V355.13M65.33 346.85h4.0M65.33 355.13h4.0M81.96 356.17V364.45M79.96 356.17h4.0M79.96 364.45h4.0M96.59 352.03V362.38M94.59 352.03h4.0M94.59 362.38h4.0M155.11 404.29V422.91M153.11 404.29h4.0M153.11 422.91h4.0M186.46 341.16V361.86M184.46 341.16h4.0M184.46 361.86h4.0M215.72 350.48V366.00M213.72 350.48h4.0M213.72 366.00h4.0M274.24 374.28V415.67M272.24 374.28h4.0M272.24 415.67h4.0" stroke="#9d97d8" stroke-width="1.0" fill="none" opacity="0.8"/>
<polyline points="54.79,388.76 67.33,350.99 81.96,360.31 96.59,357.20 155.11,413.60 186.46,351.51 215.72,358.24 274.24,394.97" stroke="#8f87d0" stroke-width="1.0" fill="none" opacity="1.0" stroke-linejoin="round"/>
<circle cx="54.79" cy="388.76" r="2.45" fill="#8f87d0" opacity="1.0"/><circle cx="67.33" cy="350.99" r="2.45" fill="#8f87d0" opacity="1.0"/><circle cx="81.96" cy="360.31" r="2.45" fill="#8f87d0" opacity="1.0"/><circle cx="96.59" cy="357.20" r="2.45" fill="#8f87d0" opacity="1.0"/><circle cx="155.11" cy="413.60" r="2.45" fill="#8f87d0" opacity="1.0"/><circle cx="186.46" cy="351.51" r="2.45" fill="#8f87d0" opacity="1.0"/><circle cx="215.72" cy="358.24" r="2.45" fill="#8f87d0" opacity="1.0"/><circle cx="274.24" cy="394.97" r="2.45" fill="#8f87d0" opacity="1.0"/>
<path d="M160.85 404.20V410.80M163.15 404.20V410.80M159.10 406.30H164.90M159.10 408.70H164.90M160.85 412.00V418.60M163.15 412.00V418.60M159.10 414.10H164.90M159.10 416.50H164.90M196.05 385.30V391.90M198.35 385.30V391.90M194.30 387.40H200.10M194.30 389.80H200.10M280.15 391.60V398.20M282.45 391.60V398.20M278.40 393.70H284.20M278.40 396.10H284.20M320.35 299.40V306.00M322.65 299.40V306.00M318.60 301.50H324.40M318.60 303.90H324.40" stroke="#111" stroke-width="1.15" fill="none"/>
<path d="M417.20 285.50V461.30M438.10 285.50V461.30M459.00 285.50V461.30M479.90 285.50V461.30M500.80 285.50V461.30M521.70 285.50V461.30M542.60 285.50V461.30M563.50 285.50V461.30M584.40 285.50V461.30M605.30 285.50V461.30M626.20 285.50V461.30M660.30 285.50V461.30M396.30 432.00H677.60M396.30 402.70H677.60M396.30 373.40H677.60M396.30 344.10H677.60M396.30 314.80H677.60" stroke="#bdbdbd" stroke-width="0.75" stroke-dasharray="2.6 2.0" fill="none"/>
<path d="M396.30 285.50V461.30H647.70M651.70 461.30H677.60V285.50H651.70M647.70 285.50H396.30" stroke="#333333" stroke-width="1.2" fill="none" stroke-linecap="square"/>
<path d="M644.40 289.90L649.60 281.70M649.40 289.90L654.60 281.70M644.40 465.70L649.60 457.50M649.40 465.70L654.60 457.50" stroke="#333333" stroke-width="1" fill="none"/>
<path d="M396.30 461.30v4.0M396.30 285.50v4.0M406.75 461.30v2.0M406.75 285.50v2.0M417.20 461.30v4.0M417.20 285.50v4.0M427.65 461.30v2.0M427.65 285.50v2.0M438.10 461.30v4.0M438.10 285.50v4.0M448.55 461.30v2.0M448.55 285.50v2.0M459.00 461.30v4.0M459.00 285.50v4.0M469.45 461.30v2.0M469.45 285.50v2.0M479.90 461.30v4.0M479.90 285.50v4.0M490.35 461.30v2.0M490.35 285.50v2.0M500.80 461.30v4.0M500.80 285.50v4.0M511.25 461.30v2.0M511.25 285.50v2.0M521.70 461.30v4.0M521.70 285.50v4.0M532.15 461.30v2.0M532.15 285.50v2.0M542.60 461.30v4.0M542.60 285.50v4.0M553.05 461.30v2.0M553.05 285.50v2.0M563.50 461.30v4.0M563.50 285.50v4.0M573.95 461.30v2.0M573.95 285.50v2.0M584.40 461.30v4.0M584.40 285.50v4.0M594.85 461.30v2.0M594.85 285.50v2.0M605.30 461.30v4.0M605.30 285.50v4.0M615.75 461.30v2.0M615.75 285.50v2.0M626.20 461.30v4.0M626.20 285.50v4.0M636.65 461.30v2.0M636.65 285.50v2.0M660.30 461.30v4.0M660.30 285.50v4.0M668.80 461.30v2.0M668.80 285.50v2.0M677.30 461.30v4.0M677.30 285.50v4.0M396.30 461.30h-3.6M396.30 432.00h-3.6M396.30 402.70h-3.6M396.30 373.40h-3.6M396.30 344.10h-3.6M396.30 314.80h-3.6M396.30 285.50h-3.6M396.30 453.98h-1.9M396.30 446.65h-1.9M396.30 439.32h-1.9M396.30 424.68h-1.9M396.30 417.35h-1.9M396.30 410.03h-1.9M396.30 395.38h-1.9M396.30 388.05h-1.9M396.30 380.73h-1.9M396.30 366.07h-1.9M396.30 358.75h-1.9M396.30 351.43h-1.9M396.30 336.77h-1.9M396.30 329.45h-1.9M396.30 322.12h-1.9M396.30 307.48h-1.9M396.30 300.15h-1.9M396.30 292.83h-1.9M677.60 432.00h-3.0M677.60 402.70h-3.0M677.60 373.40h-3.0M677.60 344.10h-3.0M677.60 314.80h-3.0M677.60 453.98h-2.0M677.60 446.65h-2.0M677.60 439.32h-2.0M677.60 424.68h-2.0M677.60 417.35h-2.0M677.60 410.03h-2.0M677.60 395.38h-2.0M677.60 388.05h-2.0M677.60 380.73h-2.0M677.60 366.07h-2.0M677.60 358.75h-2.0M677.60 351.43h-2.0M677.60 336.77h-2.0M677.60 329.45h-2.0M677.60 322.12h-2.0M677.60 307.48h-2.0M677.60 300.15h-2.0M677.60 292.83h-2.0" stroke="#333333" stroke-width="1.1" fill="none"/>
<g font-family="Liberation Sans, sans-serif" font-weight="bold" font-size="8.1" fill="#161616"><text transform="translate(396.30,473.90) scale(1,1.18)" text-anchor="middle">0</text><text transform="translate(417.20,473.90) scale(1,1.18)" text-anchor="middle">10</text><text transform="translate(438.10,473.90) scale(1,1.18)" text-anchor="middle">20</text><text transform="translate(459.00,473.90) scale(1,1.18)" text-anchor="middle">30</text><text transform="translate(479.90,473.90) scale(1,1.18)" text-anchor="middle">40</text><text transform="translate(500.80,473.90) scale(1,1.18)" text-anchor="middle">50</text><text transform="translate(521.70,473.90) scale(1,1.18)" text-anchor="middle">60</text><text transform="translate(542.60,473.90) scale(1,1.18)" text-anchor="middle">70</text><text transform="translate(563.50,473.90) scale(1,1.18)" text-anchor="middle">80</text><text transform="translate(584.40,473.90) scale(1,1.18)" text-anchor="middle">90</text><text transform="translate(605.30,473.90) scale(1,1.18)" text-anchor="middle">100</text><text transform="translate(626.20,473.90) scale(1,1.18)" text-anchor="middle">110</text><text transform="translate(660.30,473.90) scale(1,1.18)" text-anchor="middle">420</text><text transform="translate(677.30,473.90) scale(1,1.18)" text-anchor="middle">430</text></g>
<g font-family="Liberation Sans, sans-serif" font-weight="bold" font-size="8.1" fill="#161616"><text transform="translate(390.30,463.90) scale(1,1.18)" text-anchor="end">0.0</text><text transform="translate(390.30,434.60) scale(1,1.18)" text-anchor="end">2.0x10<tspan dy="-3" font-size="5.5">6</tspan></text><text transform="translate(390.30,405.30) scale(1,1.18)" text-anchor="end">4.0x10<tspan dy="-3" font-size="5.5">6</tspan></text><text transform="translate(390.30,376.00) scale(1,1.18)" text-anchor="end">6.0x10<tspan dy="-3" font-size="5.5">6</tspan></text><text transform="translate(390.30,346.70) scale(1,1.18)" text-anchor="end">8.0x10<tspan dy="-3" font-size="5.5">6</tspan></text><text transform="translate(390.30,317.40) scale(1,1.18)" text-anchor="end">1.0x10<tspan dy="-3" font-size="5.5">7</tspan></text><text transform="translate(390.30,288.10) scale(1,1.18)" text-anchor="end">1.2x10<tspan dy="-3" font-size="5.5">7</tspan></text></g>
<path d="M398.39 319.49V407.39M396.39 319.49h4.0M396.39 407.39h4.0M410.93 321.10V350.40M408.93 321.10h4.0M408.93 350.40h4.0M425.56 317.29V340.73M423.56 317.29h4.0M423.56 340.73h4.0M440.19 319.49V345.86M438.19 319.49h4.0M438.19 345.86h4.0M498.71 373.25V390.83M496.71 373.25h4.0M496.71 390.83h4.0M530.06 419.69V437.27M528.06 419.69h4.0M528.06 437.27h4.0M559.32 413.69V431.27M557.32 413.69h4.0M557.32 431.27h4.0M617.84 446.65V461.30M615.84 446.65h4.0M615.84 461.30h4.0" stroke="#f2d49c" stroke-width="1.0" fill="none" opacity="0.85"/>
<polyline points="398.39,363.44 410.93,335.75 425.56,329.01 440.19,332.67 498.71,382.04 530.06,428.48 559.32,422.48 617.84,453.98" stroke="#f2d49c" stroke-width="1.0" fill="none" opacity="0.9" stroke-linejoin="round"/>
<rect x="396.24" y="361.29" width="4.30" height="4.30" fill="#f2d49c" opacity="0.9"/><rect x="408.78" y="333.60" width="4.30" height="4.30" fill="#f2d49c" opacity="0.9"/><rect x="423.41" y="326.86" width="4.30" height="4.30" fill="#f2d49c" opacity="0.9"/><rect x="438.04" y="330.52" width="4.30" height="4.30" fill="#f2d49c" opacity="0.9"/><rect x="496.56" y="379.89" width="4.30" height="4.30" fill="#f2d49c" opacity="0.9"/><rect x="527.91" y="426.33" width="4.30" height="4.30" fill="#f2d49c" opacity="0.9"/><rect x="557.17" y="420.33" width="4.30" height="4.30" fill="#f2d49c" opacity="0.9"/><rect x="615.69" y="451.83" width="4.30" height="4.30" fill="#f2d49c" opacity="0.9"/>
<path d="M398.39 353.77V418.23M396.39 353.77h4.0M396.39 418.23h4.0M410.93 342.63V360.22M408.93 342.63h4.0M408.93 360.22h4.0M425.56 344.10V361.68M423.56 344.10h4.0M423.56 361.68h4.0M440.19 342.63V360.22M438.19 342.63h4.0M438.19 360.22h4.0M498.71 424.53V434.78M496.71 424.53h4.0M496.71 434.78h4.0M530.06 396.11V425.41M528.06 396.11h4.0M528.06 425.41h4.0M559.32 401.24V433.47M557.32 401.24h4.0M557.32 433.47h4.0M617.84 424.68V458.96M615.84 424.68h4.0M615.84 458.96h4.0" stroke="#eaa03a" stroke-width="1.0" fill="none" opacity="0.8"/>
<polyline points="398.39,386.00 410.93,351.43 425.56,352.89 440.19,351.43 498.71,429.66 530.06,410.76 559.32,417.35 617.84,441.82" stroke="#eaa03a" stroke-width="1.0" fill="none" opacity="1.0" stroke-linejoin="round"/>
<path d="M398.39 383.25L401.14 388.06L395.64 388.06Z" fill="#eaa03a" opacity="1.0"/><path d="M410.93 348.68L413.68 353.49L408.18 353.49Z" fill="#eaa03a" opacity="1.0"/><path d="M425.56 350.14L428.31 354.95L422.81 354.95Z" fill="#eaa03a" opacity="1.0"/><path d="M440.19 348.68L442.94 353.49L437.44 353.49Z" fill="#eaa03a" opacity="1.0"/><path d="M498.71 426.91L501.46 431.72L495.96 431.72Z" fill="#eaa03a" opacity="1.0"/><path d="M530.06 408.01L532.81 412.82L527.31 412.82Z" fill="#eaa03a" opacity="1.0"/><path d="M559.32 414.60L562.07 419.41L556.57 419.41Z" fill="#eaa03a" opacity="1.0"/><path d="M617.84 439.07L620.59 443.88L615.09 443.88Z" fill="#eaa03a" opacity="1.0"/>
<path d="M398.39 294.73V388.05M396.39 294.73h4.0M396.39 388.05h4.0M410.93 302.93V351.28M408.93 302.93h4.0M408.93 351.28h4.0M425.56 342.93V389.81M423.56 342.93h4.0M423.56 389.81h4.0M440.19 323.59V389.81M438.19 323.59h4.0M438.19 389.81h4.0M498.71 303.08V352.89M496.71 303.08h4.0M496.71 352.89h4.0M530.06 324.32V375.60M528.06 324.32h4.0M528.06 375.60h4.0M559.32 319.19V355.23M557.32 319.19h4.0M557.32 355.23h4.0M617.84 318.76V364.17M615.84 318.76h4.0M615.84 364.17h4.0" stroke="#cf8a62" stroke-width="1.0" fill="none" opacity="0.85"/>
<polyline points="398.39,335.31 410.93,327.11 425.56,366.37 440.19,356.70 498.71,327.99 530.06,349.96 559.32,337.21 617.84,341.46 663.70,344.39" stroke="#bb622e" stroke-width="1.0" fill="none" opacity="1.0" stroke-linejoin="round"/>
<path d="M398.39 338.06L401.14 333.25L395.64 333.25Z" fill="#bb622e" opacity="1.0"/><path d="M410.93 329.86L413.68 325.04L408.18 325.04Z" fill="#bb622e" opacity="1.0"/><path d="M425.56 369.12L428.31 364.31L422.81 364.31Z" fill="#bb622e" opacity="1.0"/><path d="M440.19 359.45L442.94 354.64L437.44 354.64Z" fill="#bb622e" opacity="1.0"/><path d="M498.71 330.74L501.46 325.92L495.96 325.92Z" fill="#bb622e" opacity="1.0"/><path d="M530.06 352.71L532.81 347.90L527.31 347.90Z" fill="#bb622e" opacity="1.0"/><path d="M559.32 339.96L562.07 335.15L556.57 335.15Z" fill="#bb622e" opacity="1.0"/><path d="M617.84 344.21L620.59 339.40L615.09 339.40Z" fill="#bb622e" opacity="1.0"/><path d="M663.70 347.14L666.45 342.33L660.95 342.33Z" fill="#bb622e" opacity="1.0"/>
<path d="M398.39 426.14V440.79M396.39 426.14h4.0M396.39 440.79h4.0M410.93 405.19V434.49M408.93 405.19h4.0M408.93 434.49h4.0M425.56 403.14V432.44M423.56 403.14h4.0M423.56 432.44h4.0M440.19 406.22V435.52M438.19 406.22h4.0M438.19 435.52h4.0M498.71 432.15V443.87M496.71 432.15h4.0M496.71 443.87h4.0M530.06 449.43V461.15M528.06 449.43h4.0M528.06 461.15h4.0M559.32 447.24V456.03M557.32 447.24h4.0M557.32 456.03h4.0M617.84 450.75V459.54M615.84 450.75h4.0M615.84 459.54h4.0" stroke="#d6d8f0" stroke-width="1.2" fill="none" opacity="0.9"/>
<polyline points="398.39,433.47 410.93,419.84 425.56,417.79 440.19,420.87 498.71,438.01 530.06,455.29 559.32,451.63 617.84,455.15" stroke="#d6d8f0" stroke-width="1.0" fill="none" opacity="1.0" stroke-linejoin="round"/>
<circle cx="398.39" cy="433.47" r="2.45" fill="#d6d8f0" opacity="1.0"/><circle cx="410.93" cy="419.84" r="2.45" fill="#d6d8f0" opacity="1.0"/><circle cx="425.56" cy="417.79" r="2.45" fill="#d6d8f0" opacity="1.0"/><circle cx="440.19" cy="420.87" r="2.45" fill="#d6d8f0" opacity="1.0"/><circle cx="498.71" cy="438.01" r="2.45" fill="#d6d8f0" opacity="1.0"/><circle cx="530.06" cy="455.29" r="2.45" fill="#d6d8f0" opacity="1.0"/><circle cx="559.32" cy="451.63" r="2.45" fill="#d6d8f0" opacity="1.0"/><circle cx="617.84" cy="455.15" r="2.45" fill="#d6d8f0" opacity="1.0"/>
<path d="M398.39 436.25V447.97M396.39 436.25h4.0M396.39 447.97h4.0M410.93 398.01V434.64M408.93 398.01h4.0M408.93 434.64h4.0M425.56 396.11V432.73M423.56 396.11h4.0M423.56 432.73h4.0M440.19 399.33V437.42M438.19 399.33h4.0M438.19 437.42h4.0M498.71 446.65V455.44M496.71 446.65h4.0M496.71 455.44h4.0M530.06 435.96V456.47M528.06 435.96h4.0M528.06 456.47h4.0M559.32 439.03V458.08M557.32 439.03h4.0M557.32 458.08h4.0M617.84 456.32V460.71M615.84 456.32h4.0M615.84 460.71h4.0" stroke="#9d97d8" stroke-width="1.0" fill="none" opacity="0.8"/>
<polyline points="398.39,442.11 410.93,416.32 425.56,414.42 440.19,418.38 498.71,451.05 530.06,446.21 559.32,448.55 617.84,458.52" stroke="#8f87d0" stroke-width="1.0" fill="none" opacity="1.0" stroke-linejoin="round"/>
<circle cx="398.39" cy="442.11" r="2.45" fill="#8f87d0" opacity="1.0"/><circle cx="410.93" cy="416.32" r="2.45" fill="#8f87d0" opacity="1.0"/><circle cx="425.56" cy="414.42" r="2.45" fill="#8f87d0" opacity="1.0"/><circle cx="440.19" cy="418.38" r="2.45" fill="#8f87d0" opacity="1.0"/><circle cx="498.71" cy="451.05" r="2.45" fill="#8f87d0" opacity="1.0"/><circle cx="530.06" cy="446.21" r="2.45" fill="#8f87d0" opacity="1.0"/><circle cx="559.32" cy="448.55" r="2.45" fill="#8f87d0" opacity="1.0"/><circle cx="617.84" cy="458.52" r="2.45" fill="#8f87d0" opacity="1.0"/>
<path d="M506.05 426.90V433.50M508.35 426.90V433.50M504.30 429.00H510.10M504.30 431.40H510.10" stroke="#111" stroke-width="1.15" fill="none"/>
<text transform="translate(193.2,246) scale(1,1.07)" font-family="Liberation Sans, sans-serif" font-weight="bold" font-size="9.8" fill="#161616" text-anchor="middle">Time past administration (days)</text>
<text transform="translate(536.5,246) scale(1,1.07)" font-family="Liberation Sans, sans-serif" font-weight="bold" font-size="9.8" fill="#161616" text-anchor="middle">Time past administration (days)</text>
<text transform="translate(193.2,491) scale(1,1.07)" font-family="Liberation Sans, sans-serif" font-weight="bold" font-size="9.8" fill="#161616" text-anchor="middle">Time past administration (days)</text>
<text transform="translate(536.5,491) scale(1,1.07)" font-family="Liberation Sans, sans-serif" font-weight="bold" font-size="9.8" fill="#161616" text-anchor="middle">Time past administration (days)</text>
<text transform="translate(30.2,128) rotate(-90) scale(1,1.07)" font-family="Liberation Sans, sans-serif" font-weight="bold" font-size="9.8" fill="#161616" text-anchor="middle">Relative implant volume (%)</text>
<text transform="translate(362,129.5) rotate(-90) scale(1,1.07)" font-family="Liberation Sans, sans-serif" font-weight="bold" font-size="9.8" fill="#161616" text-anchor="middle">Macroscopic implant surface</text>
<text transform="translate(374.6,127.5) rotate(-90) scale(1,1.07)" font-family="Liberation Sans, sans-serif" font-weight="bold" font-size="9.8" fill="#161616" text-anchor="middle">determined by CT (cm<tspan dy="-3.5" font-size="6.5">2</tspan><tspan dy="3.5">)</tspan></text>
<text transform="translate(17,374.3) rotate(-90) scale(1,1.07)" font-family="Liberation Sans, sans-serif" font-weight="bold" font-size="9.8" fill="#161616" text-anchor="middle">Average radiopacity of pixel</text>
<text transform="translate(29.2,372.6) rotate(-90) scale(1,1.07)" font-family="Liberation Sans, sans-serif" font-weight="bold" font-size="9.8" fill="#161616" text-anchor="middle">within the implant (HU)</text>
<text transform="translate(357.6,373) rotate(-90) scale(1.012,1.07)" font-family="Liberation Sans, sans-serif" font-weight="bold" font-size="9.8" fill="#161616" text-anchor="middle">Total radiopacity over entire implant (HU)</text>
<text x="1.5" y="28.9" font-family="Liberation Sans, sans-serif" font-size="26.8" font-weight="bold" fill="#fff" stroke="#404040" stroke-width="2.1" stroke-linejoin="round">A</text>
<text x="1.5" y="28.9" font-family="Liberation Sans, sans-serif" font-size="26.8" font-weight="bold" fill="#fff" stroke="#fff" stroke-width="0.6" stroke-linejoin="round">A</text>
<text x="349.8" y="29.2" font-family="Liberation Sans, sans-serif" font-size="28.8" font-weight="bold" fill="#fff" stroke="#404040" stroke-width="0.8">B</text>
<text x="1.0" y="272.9" font-family="Liberation Sans, sans-serif" font-size="31" font-weight="bold" fill="#fff" stroke="#404040" stroke-width="0.8">C</text>
<text x="349.6" y="270.0" font-family="Liberation Sans, sans-serif" font-size="29.5" font-weight="bold" fill="#fff" stroke="#404040" stroke-width="0.8">D</text>
<rect x="31.74" y="1.74" width="4.51" height="4.51" fill="#f2d49c" opacity="1.0"/>
<text transform="translate(45.4,7.00) scale(1,1.2)" font-family="Liberation Sans, sans-serif" font-weight="bold" font-size="8.0" fill="#161616">G70I - scaffold (<tspan font-style="italic" dx="0.6">t</tspan><tspan dy="2.2" dx="0.2" font-size="5.6">1/2</tspan><tspan dy="-2.2" dx="0.3"> = 29 ± 2 d)</tspan></text>
<path d="M34.00 12.91L36.89 17.97L31.11 17.97Z" fill="#eaa03a" opacity="1.0"/>
<text transform="translate(45.4,18.80) scale(1,1.2)" font-family="Liberation Sans, sans-serif" font-weight="bold" font-size="8.0" fill="#161616">G100I - scaffold (<tspan font-style="italic" dx="0.6">t</tspan><tspan dy="2.2" dx="0.2" font-size="5.6">1/2</tspan><tspan dy="-2.2" dx="0.3"> = 35 ± 1 d)</tspan></text>
<path d="M34.00 30.99L36.89 25.93L31.11 25.93Z" fill="#bb622e" opacity="1.0"/>
<text transform="translate(45.4,31.10) scale(1,1.2)" font-family="Liberation Sans, sans-serif" font-weight="bold" font-size="8.0" fill="#161616">GAEMAI - scaffold (<tspan font-style="italic" dx="0.6">t</tspan><tspan dy="2.2" dx="0.2" font-size="5.6">1/2</tspan><tspan dy="-2.2" dx="0.3"> = 761 ± 59 d)</tspan></text>
<circle cx="193.30" cy="4.00" r="2.57" fill="#d6d8f0" opacity="1.0"/>
<text transform="translate(204,7.00) scale(1,1.2)" font-family="Liberation Sans, sans-serif" font-weight="bold" font-size="8.0" fill="#161616">G70I - injectable (<tspan font-style="italic" dx="0.6">t</tspan><tspan dy="2.2" dx="0.2" font-size="5.6">1/2</tspan><tspan dy="-2.2" dx="0.3"> = 27 ± 3 d)</tspan></text>
<circle cx="193.30" cy="15.80" r="2.57" fill="#8f87d0" opacity="1.0"/>
<text transform="translate(204,18.80) scale(1,1.2)" font-family="Liberation Sans, sans-serif" font-weight="bold" font-size="8.0" fill="#161616">G100I - injectable (<tspan font-style="italic" dx="0.6">t</tspan><tspan dy="2.2" dx="0.2" font-size="5.6">1/2</tspan><tspan dy="-2.2" dx="0.3"> = 25 ± 3 d)</tspan></text>
<path d="M193.30 25.16L194.04 27.08L196.10 27.19L194.50 28.49L195.03 30.48L193.30 29.36L191.57 30.48L192.10 28.49L190.50 27.19L192.56 27.08Z" fill="#2e2a86" opacity="1.0"/>
<text transform="translate(204.6,31.10) scale(1,1.2)" font-family="Liberation Sans, sans-serif" font-weight="bold" font-size="8.0" fill="#161616">GAEMAI - injectable (<tspan font-style="italic" dx="0.6">t</tspan><tspan dy="2.2" dx="0.2" font-size="5.6">1/2</tspan><tspan dy="-2.2" dx="0.3"> not available)</tspan></text>
<path d="M442.20 8.50H460.70" stroke="#f2d49c" stroke-width="1.0"/>
<rect x="449.24" y="6.24" width="4.51" height="4.51" fill="#f2d49c" opacity="1.0"/>
<text transform="translate(463.90,11.80) scale(1,1.2)" font-family="Liberation Sans, sans-serif" font-weight="bold" font-size="8.0" fill="#161616">G70I - scaffold</text>
<path d="M442.20 18.80H460.70" stroke="#eaa03a" stroke-width="1.0"/>
<path d="M451.50 15.91L454.39 20.97L448.61 20.97Z" fill="#eaa03a" opacity="1.0"/>
<text transform="translate(463.90,22.10) scale(1,1.2)" font-family="Liberation Sans, sans-serif" font-weight="bold" font-size="8.0" fill="#161616">G100I - scaffold</text>
<path d="M442.20 29.10H460.70" stroke="#bb622e" stroke-width="1.0"/>
<path d="M451.50 31.99L454.39 26.93L448.61 26.93Z" fill="#bb622e" opacity="1.0"/>
<text transform="translate(463.90,32.40) scale(1,1.2)" font-family="Liberation Sans, sans-serif" font-weight="bold" font-size="8.0" fill="#161616">GAEMAI - scaffold</text>
<path d="M544.60 8.50H562.30" stroke="#d6d8f0" stroke-width="1"/>
<circle cx="553.50" cy="8.50" r="2.57" fill="#d6d8f0" opacity="1.0"/>
<text transform="translate(565.20,11.80) scale(1,1.2)" font-family="Liberation Sans, sans-serif" font-weight="bold" font-size="8.0" fill="#161616">G70I - injectable</text>
<path d="M544.60 18.80H562.30" stroke="#8f87d0" stroke-width="1"/>
<circle cx="553.50" cy="18.80" r="2.57" fill="#8f87d0" opacity="1.0"/>
<text transform="translate(565.20,22.10) scale(1,1.2)" font-family="Liberation Sans, sans-serif" font-weight="bold" font-size="8.0" fill="#161616">G100I - injectable</text>
<path d="M545.60 29.10H563.30" stroke="#5a4aa8" stroke-width="1"/>
<path d="M554.50 26.16L555.24 28.08L557.30 28.19L555.70 29.49L556.23 31.48L554.50 30.36L552.77 31.48L553.30 29.49L551.70 28.19L553.76 28.08Z" fill="#2e2a86" opacity="1.0"/>
<text transform="translate(566.20,32.40) scale(1,1.2)" font-family="Liberation Sans, sans-serif" font-weight="bold" font-size="8.0" fill="#161616">GAEMAI - injectable</text>
<path d="M109.60 253.80H127.30" stroke="#f2d49c" stroke-width="1.0"/>
<rect x="116.54" y="251.54" width="4.51" height="4.51" fill="#f2d49c" opacity="1.0"/>
<text transform="translate(130.50,257.10) scale(1,1.2)" font-family="Liberation Sans, sans-serif" font-weight="bold" font-size="8.0" fill="#161616">G70I - scaffold</text>
<path d="M109.60 264.00H127.30" stroke="#eaa03a" stroke-width="1.0"/>
<path d="M118.80 261.11L121.69 266.17L115.91 266.17Z" fill="#eaa03a" opacity="1.0"/>
<text transform="translate(130.50,267.30) scale(1,1.2)" font-family="Liberation Sans, sans-serif" font-weight="bold" font-size="8.0" fill="#161616">G100I - scaffold</text>
<path d="M109.60 274.20H127.30" stroke="#bb622e" stroke-width="1.0"/>
<path d="M118.80 277.09L121.69 272.03L115.91 272.03Z" fill="#bb622e" opacity="1.0"/>
<text transform="translate(130.50,277.50) scale(1,1.2)" font-family="Liberation Sans, sans-serif" font-weight="bold" font-size="8.0" fill="#161616">GAEMAI - scaffold</text>
<path d="M206.10 253.80H224.10" stroke="#d6d8f0" stroke-width="1"/>
<circle cx="214.80" cy="253.80" r="2.57" fill="#d6d8f0" opacity="1.0"/>
<text transform="translate(226.50,257.10) scale(1,1.2)" font-family="Liberation Sans, sans-serif" font-weight="bold" font-size="8.0" fill="#161616">G70I - injectable</text>
<path d="M206.10 264.00H224.10" stroke="#8f87d0" stroke-width="1"/>
<circle cx="214.80" cy="264.00" r="2.57" fill="#8f87d0" opacity="1.0"/>
<text transform="translate(226.50,267.30) scale(1,1.2)" font-family="Liberation Sans, sans-serif" font-weight="bold" font-size="8.0" fill="#161616">G100I - injectable</text>
<path d="M207.10 274.20H225.10" stroke="#5a4aa8" stroke-width="1"/>
<path d="M215.80 271.26L216.54 273.18L218.60 273.29L217.00 274.59L217.53 276.58L215.80 275.46L214.07 276.58L214.60 274.59L213.00 273.29L215.06 273.18Z" fill="#2e2a86" opacity="1.0"/>
<text transform="translate(227.50,277.50) scale(1,1.2)" font-family="Liberation Sans, sans-serif" font-weight="bold" font-size="8.0" fill="#161616">GAEMAI - injectable</text>
<path d="M440.60 253.80H459.10" stroke="#f2d49c" stroke-width="1.0"/>
<rect x="447.54" y="251.54" width="4.51" height="4.51" fill="#f2d49c" opacity="1.0"/>
<text transform="translate(462.00,257.10) scale(1,1.2)" font-family="Liberation Sans, sans-serif" font-weight="bold" font-size="8.0" fill="#161616">G70I - scaffold</text>
<path d="M440.60 264.00H459.10" stroke="#eaa03a" stroke-width="1.0"/>
<path d="M449.80 261.11L452.69 266.17L446.91 266.17Z" fill="#eaa03a" opacity="1.0"/>
<text transform="translate(462.00,267.30) scale(1,1.2)" font-family="Liberation Sans, sans-serif" font-weight="bold" font-size="8.0" fill="#161616">G100I - scaffold</text>
<path d="M440.60 274.20H459.10" stroke="#bb622e" stroke-width="1.0"/>
<path d="M449.80 277.09L452.69 272.03L446.91 272.03Z" fill="#bb622e" opacity="1.0"/>
<text transform="translate(462.00,277.50) scale(1,1.2)" font-family="Liberation Sans, sans-serif" font-weight="bold" font-size="8.0" fill="#161616">GAEMAI - scaffold</text>
<path d="M537.20 253.80H555.70" stroke="#d6d8f0" stroke-width="1"/>
<circle cx="546.00" cy="253.80" r="2.57" fill="#d6d8f0" opacity="1.0"/>
<text transform="translate(558.10,257.10) scale(1,1.2)" font-family="Liberation Sans, sans-serif" font-weight="bold" font-size="8.0" fill="#161616">G70I - injectable</text>
<path d="M537.20 264.00H555.70" stroke="#8f87d0" stroke-width="1"/>
<circle cx="546.00" cy="264.00" r="2.57" fill="#8f87d0" opacity="1.0"/>
<text transform="translate(558.10,267.30) scale(1,1.2)" font-family="Liberation Sans, sans-serif" font-weight="bold" font-size="8.0" fill="#161616">G100I - injectable</text>
<path d="M538.20 274.20H556.70" stroke="#5a4aa8" stroke-width="1"/>
<path d="M547.00 271.26L547.74 273.18L549.80 273.29L548.20 274.59L548.73 276.58L547.00 275.46L545.27 276.58L545.80 274.59L544.20 273.29L546.26 273.18Z" fill="#2e2a86" opacity="1.0"/>
<text transform="translate(559.10,277.50) scale(1,1.2)" font-family="Liberation Sans, sans-serif" font-weight="bold" font-size="8.0" fill="#161616">GAEMAI - injectable</text>
</svg></body></html>
